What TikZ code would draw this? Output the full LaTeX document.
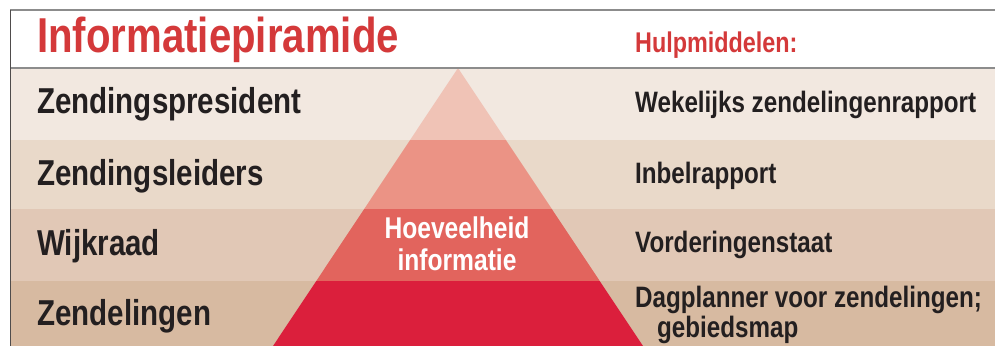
\documentclass[tikz,border=0pt]{standalone}
\usepackage{fontspec}
\setmainfont{Liberation Sans}[FakeStretch=0.82]
\definecolor{titlered}{HTML}{D4393A}
\definecolor{inkblack}{HTML}{231F20}
\definecolor{bandA}{HTML}{F2E8E0}
\definecolor{bandB}{HTML}{E9D9C9}
\definecolor{bandC}{HTML}{E1C8B6}
\definecolor{bandD}{HTML}{D7BAA1}
\definecolor{pyrA}{HTML}{F0C3B6}
\definecolor{pyrB}{HTML}{EB9385}
\definecolor{pyrC}{HTML}{E2645D}
\definecolor{pyrD}{HTML}{DB1F3C}
\tikzset{
  level/.style={anchor=base west, inner sep=0pt, text=inkblack,
    font=\bfseries\fontsize{36}{36}\selectfont},
  aid/.style={anchor=base west, inner sep=0pt, text=inkblack,
    font=\bfseries\fontsize{29.5}{30}\selectfont},
  rule/.style={draw=gray!90, line width=1.4pt}
}
\begin{document}
\begin{tikzpicture}[x=1pt, y=-1pt]
    \useasboundingbox (0,0) rectangle (995,346);
    % achtergrond: witte kop en vier banden
    \fill[white] (0,0) rectangle (995,68);
    \fill[bandA] (10,68) rectangle (995,140);
    \fill[bandB] (10,140) rectangle (995,209);
    \fill[bandC] (10,209) rectangle (995,281);
    \fill[bandD] (10,281) rectangle (995,346);

    % piramide (driehoek, per band een kleur)
    \begin{scope}
        \clip (458,68) -- (643,346) -- (273,346) -- cycle;
        \fill[pyrA] (250,68) rectangle (670,140);
        \fill[pyrB] (250,140) rectangle (670,209);
        \fill[pyrC] (250,209) rectangle (670,281);
        \fill[pyrD] (250,281) rectangle (670,346);
    \end{scope}

    % lijnen
    \draw[rule] (10,10) -- (995,10);
    \draw[rule] (10,68) -- (995,68);
    \draw[inkblack!80, line width=1pt] (10,10) -- (10,346);

    % kop
    \node[anchor=base west, inner sep=0pt, text=titlered,
          font=\bfseries\fontsize{49}{49}\selectfont] (title) at (37,52) {Informatiepiramide};
    \node[anchor=base west, inner sep=0pt, text=titlered,
          font=\bfseries\fontsize{28.5}{28.5}\selectfont] (aidtitle) at (635,52) {Hulpmiddelen:};

    % niveaus links
    \node[level] (president) at (37,113) {Zendingspresident};
    \node[level] (leiders) at (37,185) {Zendingsleiders};
    \node[level] (wijkraad) at (37,255) {Wijkraad};
    \node[level] (zendelingen) at (37,325) {Zendelingen};

    % hulpmiddelen rechts
    \node[aid] (rapport) at (635,112) {Wekelijks zendelingenrapport};
    \node[aid] (inbel) at (635,183) {Inbelrapport};
    \node[aid] (vordering) at (635,252) {Vorderingenstaat};
    \node[aid, align=left] (planner) at (635,337) {Dagplanner voor zendelingen;\\\hspace*{22pt}gebiedsmap};

    % tekst in de piramide
    \node[anchor=base, inner sep=0pt, text=white, align=center,
          font=\bfseries\fontsize{30}{32}\selectfont] (hoeveel) at (457,270) {Hoeveelheid\\informatie};
\end{tikzpicture}
\end{document}
